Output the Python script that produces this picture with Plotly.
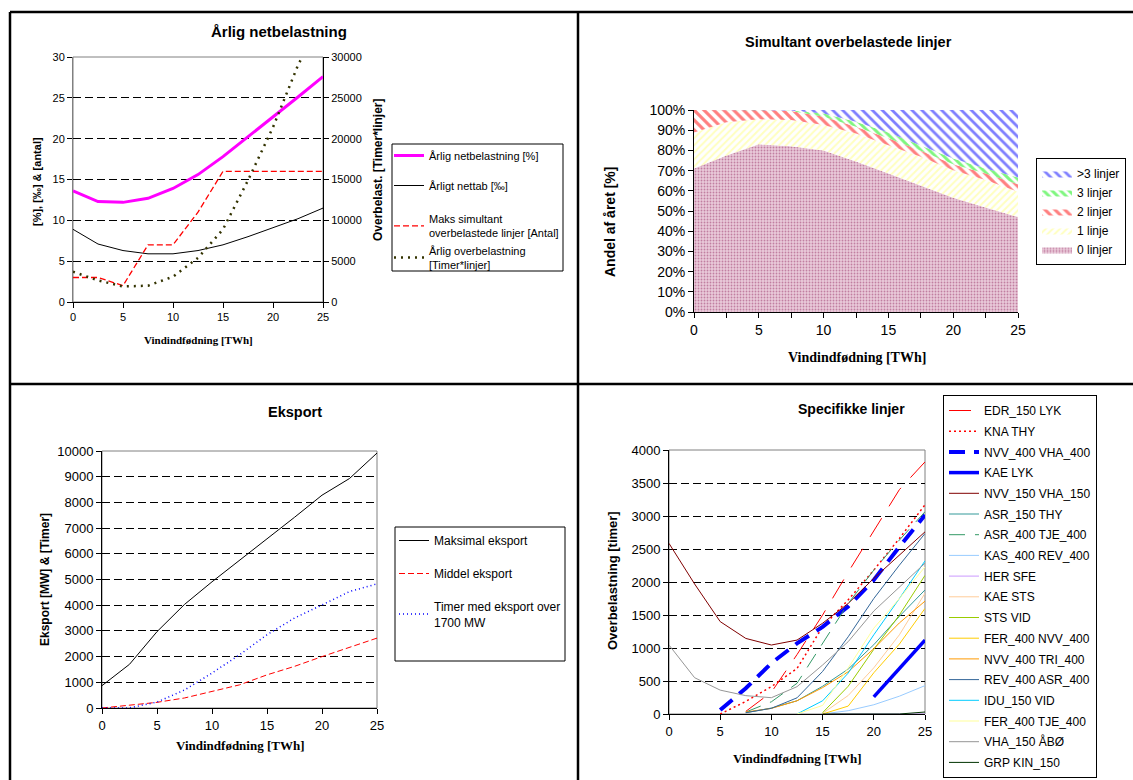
import plotly.graph_objects as go

W, H = 1133, 780


def fx(p):
    return p / W


def fy(p):
    return 1 - p / H


x_vals = [0, 2.5, 5, 7.5, 10, 12.5, 15, 17.5, 20, 22.5, 25]

# --- Top-left: Årlig netbelastning ---
netbelastning = [13.6, 12.3, 12.2, 12.7, 13.9, 15.6, 17.8, 20.2, 22.6, 25.1, 27.6]
nettab = [8.9, 7.1, 6.3, 5.9, 5.9, 6.3, 7.0, 8.0, 9.1, 10.2, 11.5]
maks_simultant = [3, 3, 2, 7, 7, 11, 16, 16, 16, 16, 16]
aarlig_overbelastning = [3700, 2650, 1900, 2000, 3100, 5400, 8900, 14900, 21400, 29000, 35000]

# --- Top-right: Simultant overbelastede linjer (share of year, %) ---
linjer_0 = [71, 77.5, 83, 82, 80, 74.5, 68.6, 62.5, 56.5, 51.7, 47]
linjer_1 = [17.8, 16.4, 12.4, 13, 12.6, 13.9, 14, 14.4, 13.7, 13.6, 12.5]
linjer_2 = [11.2, 6.1, 4.6, 4.5, 4.1, 3.3, 3.4, 2.9, 3, 3.3, 3.8]
linjer_3 = [0, 0, 0, 0.3, 1.6, 2.5, 2.8, 2.8, 2.8, 2.4, 3.3]
linjer_over3 = [0, 0, 0, 0.2, 1.7, 5.8, 11.2, 17.4, 24, 29, 33.4]

# --- Bottom-left: Eksport ---
maksimal_eksport = [870, 1700, 2970, 4030, 4910, 5740, 6600, 7420, 8280, 8930, 9920]
middel_eksport = [0, 120, 220, 390, 650, 900, 1290, 1620, 2000, 2370, 2720]
timer_eksport = [0, 5, 230, 700, 1360, 2070, 2850, 3500, 4010, 4530, 4830]

# --- Bottom-right: Specifikke linjer ---
N = None
edr_150_lyk = [N, N, N, 40, 330, 900, 1500, 2150, 2780, 3400, 3820]
kna_thy = [N, N, 0, 190, 415, 690, 1320, 1730, 2180, 2660, 3170]
nvv400_vha400 = [N, N, 60, 390, 770, 1070, 1320, 1630, 2030, 2535, 3015]
kae_lyk = [N, N, N, N, N, N, N, N, 260, 690, 1120]
nvv150_vha150 = [2585, 1970, 1400, 1145, 1045, 1120, 1375, 1675, 2055, 2410, 2760]
asr150_thy = [N, N, N, 20, 90, 200, 420, 680, 1050, 1480, 1880]
asr400_tje400 = [N, N, N, 30, 185, 465, 1070, 1675, 2180, 2635, 3065]
kas400_rev400 = [N, N, N, N, N, N, 0, 50, 140, 270, 430]
her_sfe = [N, N, N, N, N, N, 0, 0, 0, 0, 0]
kae_sts = [N, N, N, N, N, N, 10, 280, 700, 1200, 1830]
sts_vid = [N, N, N, N, N, N, 20, 420, 980, 1500, 2100]
fer400_nvv400 = [N, N, N, N, N, N, 0, 120, 625, 1060, 1600]
nvv400_tri400 = [N, N, N, 30, 85, 200, 400, 640, 990, 1380, 1710]
rev400_asr400 = [N, N, N, 20, 86, 245, 645, 1170, 1750, 2255, 2735]
idu150_vid = [N, N, N, N, N, 0, 200, 620, 1200, 1750, 2320]
fer400_tje400 = [N, N, N, N, N, 0, 130, 700, 1300, 1750, 2230]
vha150_aboe = [1045, 550, 362, 278, 247, 414, 742, 1096, 1560, 1930, 2285]
grp_kin150 = [N, N, N, N, N, N, 0, 0, 0, 0, 30]

ARIAL = "Liberation Sans, Arial, sans-serif"
TIMES = "Liberation Serif, Times New Roman, serif"

fig = go.Figure()

# ---------- Top-left traces (legend split in two so item spacing matches) ----------
tl_specs = [
    ("Årlig netbelastning [%]", netbelastning, "y", "legend", dict(color="#FF00FF", width=3)),
    ("Årligt nettab [‰]", nettab, "y", "legend", dict(color="#000000", width=1)),
    ("Maks simultant<br>overbelastede linjer [Antal]", maks_simultant, "y", "legend5",
     dict(color="#FF0000", width=1.3, dash="6px,3px")),
    ("Årlig overbelastning<br>[Timer*linjer]", aarlig_overbelastning, "y5", "legend5",
     dict(color="#333300", width=2.5, dash="2px,5px")),
]
for name, vals, ya, lg, ln in tl_specs:
    fig.add_trace(go.Scatter(x=x_vals, y=vals, name=name, mode="lines", line=ln,
                             xaxis="x", yaxis=ya, legend=lg, legendgroup=name))

# ---------- Top-right traces ----------
tr_specs = [
    ("0 linjer", linjer_0, dict(shape=".", fgcolor="#993366", bgcolor="#E9CADA", size=3, solidity=0.3)),
    ("1 linje", linjer_1, dict(shape="/", fgcolor="#FFFF80", bgcolor="#FFFFFF", size=5, solidity=0.4)),
    ("2 linjer", linjer_2, dict(shape="\\", fgcolor="#FF0000", bgcolor="#FFFFFF", size=7, solidity=0.45)),
    ("3 linjer", linjer_3, dict(shape="\\", fgcolor="#00EE00", bgcolor="#FFFFFF", size=6, solidity=0.5)),
    (">3 linjer", linjer_over3, dict(shape="\\", fgcolor="#0000FF", bgcolor="#FFFFFF", size=7, solidity=0.4)),
]
for name, vals, pat in tr_specs:
    fig.add_trace(go.Scatter(x=x_vals, y=vals, name=name, mode="lines", stackgroup="one",
                             groupnorm="percent" if name == "0 linjer" else None,
                             line=dict(width=0), fillpattern=pat, fillcolor=pat["bgcolor"],
                             xaxis="x2", yaxis="y2", legend="legend2"))

# ---------- Bottom-left traces ----------
bl_specs = [
    ("Maksimal eksport", maksimal_eksport, dict(color="#000000", width=1)),
    ("Middel eksport", middel_eksport, dict(color="#FF0000", width=1, dash="6px,3px")),
    ("Timer med eksport over<br>1700 MW", timer_eksport, dict(color="#0000FF", width=1.5, dash="1px,3px")),
]
for name, vals, ln in bl_specs:
    fig.add_trace(go.Scatter(x=x_vals, y=vals, name=name, mode="lines", line=ln,
                             xaxis="x3", yaxis="y3", legend="legend3", legendgroup=name))

# ---------- Bottom-right traces ----------
br_specs = [
    ("EDR_150 LYK", edr_150_lyk, dict(color="#FF0000", width=1, dash="22px,14px")),
    ("KNA THY", kna_thy, dict(color="#FF0000", width=1.5, dash="2px,3px")),
    ("NVV_400 VHA_400", nvv400_vha400, dict(color="#0000FF", width=4, dash="16px,9px")),
    ("KAE LYK", kae_lyk, dict(color="#0000FF", width=3.5)),
    ("NVV_150 VHA_150", nvv150_vha150, dict(color="#800000", width=1)),
    ("ASR_150 THY", asr150_thy, dict(color="#339999", width=1)),
    ("ASR_400 TJE_400", asr400_tje400, dict(color="#339966", width=1, dash="16px,10px")),
    ("KAS_400 REV_400", kas400_rev400, dict(color="#99CCFF", width=1)),
    ("HER SFE", her_sfe, dict(color="#CC99FF", width=1)),
    ("KAE STS", kae_sts, dict(color="#FFCC99", width=1)),
    ("STS VID", sts_vid, dict(color="#99CC00", width=1)),
    ("FER_400 NVV_400", fer400_nvv400, dict(color="#FFCC00", width=1)),
    ("NVV_400 TRI_400", nvv400_tri400, dict(color="#FF9900", width=1)),
    ("REV_400 ASR_400", rev400_asr400, dict(color="#336699", width=1)),
    ("IDU_150 VID", idu150_vid, dict(color="#00CCFF", width=1)),
    ("FER_400 TJE_400", fer400_tje400, dict(color="#FFFF99", width=1)),
    ("VHA_150 ÅBØ", vha150_aboe, dict(color="#969696", width=1)),
    ("GRP KIN_150", grp_kin150, dict(color="#003300", width=1)),
]
for name, vals, ln in br_specs:
    fig.add_trace(go.Scatter(x=x_vals, y=vals, name=name, mode="lines", line=ln,
                             xaxis="x4", yaxis="y4", legend="legend4", legendgroup=name))

GRID = dict(showgrid=True, gridcolor="#000000", gridwidth=1, griddash="8px,4px")


def xax(dom, anchor, size, **kw):
    d = dict(domain=[fx(dom[0]), fx(dom[1])], anchor=anchor, range=[0, 25],
             ticks="outside", ticklen=5, tickcolor="#000", showline=True, linecolor="#000",
             linewidth=1, showgrid=False, zeroline=False,
             tickfont=dict(family=ARIAL, size=size, color="#000"))
    d.update(kw)
    return d


def yax(dom, anchor, size, **kw):
    d = dict(domain=[fy(dom[1]), fy(dom[0])], anchor=anchor, ticks="outside", ticklen=5,
             tickcolor="#000", showline=True, linecolor="#000", linewidth=1, zeroline=False,
             tickformat="d", exponentformat="none",
             tickfont=dict(family=ARIAL, size=size, color="#000"))
    d.update(kw)
    return d


def legend_box(xp, yp, size, boxed=True, **kw):
    d = dict(x=fx(xp), y=fy(yp), xanchor="left", yanchor="top",
             bgcolor="#FFFFFF" if boxed else "rgba(0,0,0,0)",
             bordercolor="#000000", borderwidth=1 if boxed else 0,
             font=dict(family=ARIAL, size=size, color="#000"))
    d.update(kw)
    return d


fig.update_layout(
    width=W, height=H, margin=dict(l=0, r=0, t=0, b=0, autoexpand=False),
    paper_bgcolor="#FFFFFF", plot_bgcolor="#FFFFFF", showlegend=True,
    xaxis=xax((73, 323), "y", 11, dtick=5, tick0=0),
    yaxis=yax((57, 302), "x", 11, range=[0, 30], dtick=5, linecolor="#808080", **GRID),
    yaxis5=yax((57, 302), "x", 11, overlaying="y", side="right", range=[0, 30000],
               dtick=5000, showgrid=False),
    xaxis2=xax((694, 1018), "y2", 14, tickmode="array", tickvals=x_vals,
               ticktext=[("%g" % v) if v % 5 == 0 else "" for v in x_vals]),
    yaxis2=yax((110, 312), "x2", 14, range=[0, 100], dtick=10, ticksuffix="%", showgrid=False),
    xaxis3=xax((102, 377), "y3", 13, dtick=5, tick0=0),
    yaxis3=yax((451, 708), "x3", 13, range=[0, 10000], dtick=1000, **GRID),
    xaxis4=xax((669, 925), "y4", 13, dtick=5, tick0=0),
    yaxis4=yax((450, 714), "x4", 13, range=[0, 4000], dtick=500, **GRID),
    legend=legend_box(389, 141, 11, boxed=False, tracegroupgap=11),
    legend5=legend_box(389, 205, 11, boxed=False, tracegroupgap=0),
    legend2=legend_box(1036, 158, 12, traceorder="reversed"),
    legend3=legend_box(394, 526, 12, boxed=False, tracegroupgap=14),
    legend4=legend_box(943, 395, 12, tracegroupgap=1.7),
)

# plot-area borders (grey), legend boxes and page frame
shapes = []
for xr, yr in (("x", "y"), ("x3", "y3"), ("x4", "y4")):
    shapes.append(dict(type="rect", xref=xr + " domain", yref=yr + " domain", x0=0, x1=1, y0=0, y1=1,
                       line=dict(color="#808080", width=1), layer="below"))
for (x0, y0, x1, y1) in ((392, 144, 563, 271), (395, 527, 565, 661)):
    shapes.append(dict(type="rect", xref="paper", yref="paper", x0=fx(x0), x1=fx(x1),
                       y0=fy(y1), y1=fy(y0), line=dict(color="#000000", width=1),
                       fillcolor="#FFFFFF", layer="above"))
frame = dict(color="#000000", width=2.5)
shapes += [
    dict(type="line", xref="paper", yref="paper", x0=fx(10), x1=1, y0=fy(12), y1=fy(12), line=frame),
    dict(type="line", xref="paper", yref="paper", x0=fx(10), x1=fx(10), y0=fy(12), y1=0, line=frame),
    dict(type="line", xref="paper", yref="paper", x0=fx(578), x1=fx(578), y0=fy(12), y1=0, line=frame),
    dict(type="line", xref="paper", yref="paper", x0=fx(10), x1=1, y0=fy(384), y1=fy(384), line=frame),
]
fig.update_layout(shapes=shapes)


def ann(text, xp, yp, size, bold=True, family=ARIAL, angle=0):
    t = "<b>%s</b>" % text if bold else text
    return dict(text=t, x=fx(xp), y=fy(yp), xref="paper", yref="paper", showarrow=False,
                xanchor="center", yanchor="middle", textangle=angle,
                font=dict(family=family, size=size, color="#000"))


annotations = [
    ann("Årlig netbelastning", 279, 32, 15),
    ann("Simultant overbelastede linjer", 848, 42, 14.5),
    ann("Eksport", 295, 412, 14.5),
    ann("Specifikke linjer", 852, 409, 14),
    ann("Vindindfødning [TWh]", 198, 340, 11, family=TIMES),
    ann("Vindindfødning [TWh]", 857, 358, 14, family=TIMES),
    ann("Vindindfødning [TWh]", 240, 745, 13, family=TIMES),
    ann("Vindindfødning [TWh]", 797, 758, 13, family=TIMES),
    ann("[%], [‰] & [antal]", 37, 182, 11, angle=-90),
    ann("Overbelast. [Timer*linjer]", 378, 170, 12, angle=-90),
    ann("Andel af året [%]", 610, 222, 14, angle=-90),
    ann("Eksport [MW] & [Timer]", 45, 580, 12, angle=-90),
    ann("Overbelastning [timer]", 612, 581, 13, angle=-90),
]
fig.update_layout(annotations=annotations)

fig.write_html("out.html")
